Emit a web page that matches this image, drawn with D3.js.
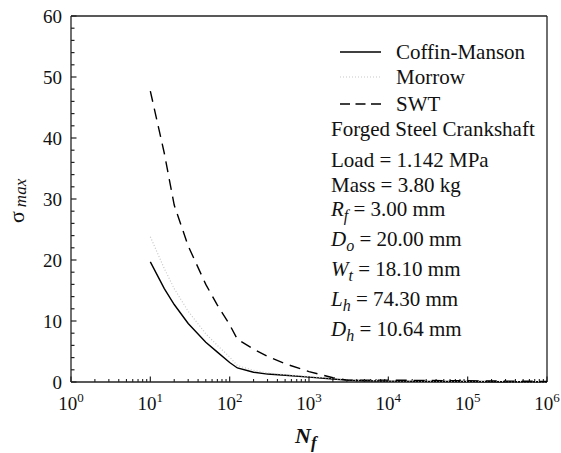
<!DOCTYPE html>
<html><head><meta charset="utf-8">
<script src="https://cdn.jsdelivr.net/npm/d3@7"></script>
<style>body{margin:0;background:#fff}svg{display:block}text{font-family:"Liberation Serif","Times New Roman",serif;fill:#111}</style>
</head><body><svg id="c" width="561" height="453"></svg>
<script>
const nf      = [10, 15, 20, 30, 50, 70, 100, 125, 200, 300, 500, 1000, 2000, 3000, 5000, 1e4, 3e4, 1e5, 3e5, 1e6];
const coffin  = [19.7, 15.3, 12.7, 9.6, 6.5, 4.9, 3.2, 2.3, 1.6, 1.3, 1.1, 0.8, 0.5, 0.3, 0.2, 0.15, 0.1, 0.08, 0.05, 0.04];
const morrow  = [23.8, 18.6, 15.3, 11.6, 7.9, 6.0, 4.1, 2.7, 1.9, 1.5, 1.2, 0.9, 0.6, 0.35, 0.25, 0.2, 0.15, 0.1, 0.08, 0.05];
const swt     = [47.7, 37.5, 29.0, 22.3, 16.0, 12.6, 9.4, 7.0, 5.4, 4.2, 3.0, 1.7, 0.7, 0.3, 0.3, 0.3, 0.25, 0.2, 0.15, 0.1];
const seriesNames = ["Coffin-Manson", "Morrow", "SWT"];
const yTicks = [0, 10, 20, 30, 40, 50, 60];
const xExps = [0, 1, 2, 3, 4, 5, 6];
const infoLines = [
  [["Forged Steel Crankshaft", ""]],
  [["Load = 1.142 MPa", ""]],
  [["Mass = 3.80 kg", ""]],
  [["R", "i"], ["f", "s"], [" = 3.00 mm", ""]],
  [["D", "i"], ["o", "s"], [" = 20.00 mm", ""]],
  [["W", "i"], ["t", "s"], [" = 18.10 mm", ""]],
  [["L", "i"], ["h", "s"], [" = 74.30 mm", ""]],
  [["D", "i"], ["h", "s"], [" = 10.64 mm", ""]]
];

const svg = d3.select("#c");
const L = 71, R = 547, T = 16, B = 382;
const x = d3.scaleLog().domain([1, 1e6]).range([L, R]);
const y = d3.scaleLinear().domain([0, 60]).range([B, T]);
const axCol = "#222";

// frame
svg.append("line").attr("x1", L).attr("x2", R).attr("y1", T).attr("y2", T).attr("stroke", axCol).attr("stroke-width", 1.3);
svg.append("line").attr("x1", R).attr("x2", R).attr("y1", T).attr("y2", B).attr("stroke", axCol).attr("stroke-width", 1.3);

// y axis
const yMinor = d3.range(0, 61, 2);
const ya = svg.append("g");
ya.append("line").attr("x1", L).attr("x2", L).attr("y1", T).attr("y2", B).attr("stroke", axCol).attr("stroke-width", 1.3);
ya.selectAll(".ym").data(yMinor).join("line").attr("x1", L).attr("x2", d => L + (d % 10 === 0 ? 5.5 : 3.5))
  .attr("y1", d => y(d)).attr("y2", d => y(d)).attr("stroke", axCol).attr("stroke-width", 1.2);
ya.selectAll(".yl").data(yTicks).join("text").attr("x", L - 9).attr("y", d => y(d) + 6.5)
  .attr("text-anchor", "end").attr("font-size", 19).text(d => d);

// x axis
const xa = svg.append("g");
xa.append("line").attr("x1", L).attr("x2", R).attr("y1", B).attr("y2", B).attr("stroke", axCol).attr("stroke-width", 1.3);
const xMinor = [];
for (let e = 0; e < 6; e++) for (let k = 2; k <= 9; k++) xMinor.push(k * Math.pow(10, e));
xa.selectAll(".xm").data(xMinor).join("line").attr("x1", d => x(d)).attr("x2", d => x(d))
  .attr("y1", B).attr("y2", B - 3).attr("stroke", axCol).attr("stroke-width", 1.1);
xa.selectAll(".xM").data(xExps).join("line").attr("x1", d => x(Math.pow(10, d))).attr("x2", d => x(Math.pow(10, d)))
  .attr("y1", B).attr("y2", B - 5.5).attr("stroke", axCol).attr("stroke-width", 1.2);
const xl = xa.selectAll(".xl").data(xExps).join("text").attr("x", d => x(Math.pow(10, d))).attr("y", B + 28)
  .attr("text-anchor", "middle").attr("font-size", 19);
xl.append("tspan").text("10");
xl.append("tspan").attr("dy", -8).attr("font-size", 13).text(d => d);

// axis titles
const xt = svg.append("text").attr("x", 295).attr("y", 443).attr("font-size", 22).attr("font-weight", "bold").attr("font-style", "italic");
xt.append("tspan").text("N");
xt.append("tspan").attr("dy", 5).attr("font-size", 17).text("f");
const yt = svg.append("text").attr("transform", "translate(24,223) rotate(-90)").attr("font-size", 22);
yt.append("tspan").text("σ");
yt.append("tspan").attr("dx", 4).attr("dy", 2).attr("font-size", 17).attr("font-style", "italic").text("max");

// curves
const series = [coffin, morrow, swt];
const styles = [
  {stroke: "#000", width: 1.4, dash: null},
  {stroke: "#c8c8c8", width: 1.2, dash: "1,2"},
  {stroke: "#000", width: 1.4, dash: "11,7"}
];
const line = d3.line().x((d, i) => x(nf[i])).y(d => y(d));
const cg = svg.append("g");
cg.selectAll("path").data(series).join("path").attr("d", d => line(d)).attr("fill", "none")
  .attr("stroke", (d, i) => styles[i].stroke).attr("stroke-width", (d, i) => styles[i].width)
  .attr("stroke-dasharray", (d, i) => styles[i].dash);

// legend
const legY = [52, 77, 104];
const lg = svg.append("g");
seriesNames.forEach((n, i) => {
  lg.append("line").attr("x1", 340).attr("x2", 381).attr("y1", legY[i]).attr("y2", legY[i])
    .attr("stroke", styles[i].stroke).attr("stroke-width", styles[i].width)
    .attr("stroke-dasharray", i === 2 ? "10,5.5" : styles[i].dash);
  lg.append("text").attr("x", 396).attr("y", legY[i] + 7).attr("font-size", 21).text(n);
});

// info text
const infoY = [136, 167, 192, 216, 246, 276, 306, 336];
infoLines.forEach((parts, i) => {
  const t = svg.append("text").attr("x", 331).attr("y", infoY[i]).attr("font-size", 21);
  let shifted = false;
  parts.forEach(p => {
    const s = t.append("tspan").text(p[0]);
    if (p[1] === "i") s.attr("font-style", "italic");
    if (p[1] === "s") { s.attr("font-style", "italic").attr("font-size", 16).attr("dy", 5); shifted = true; }
    else if (shifted) { s.attr("dy", -5); shifted = false; }
  });
});
</script></body></html>
